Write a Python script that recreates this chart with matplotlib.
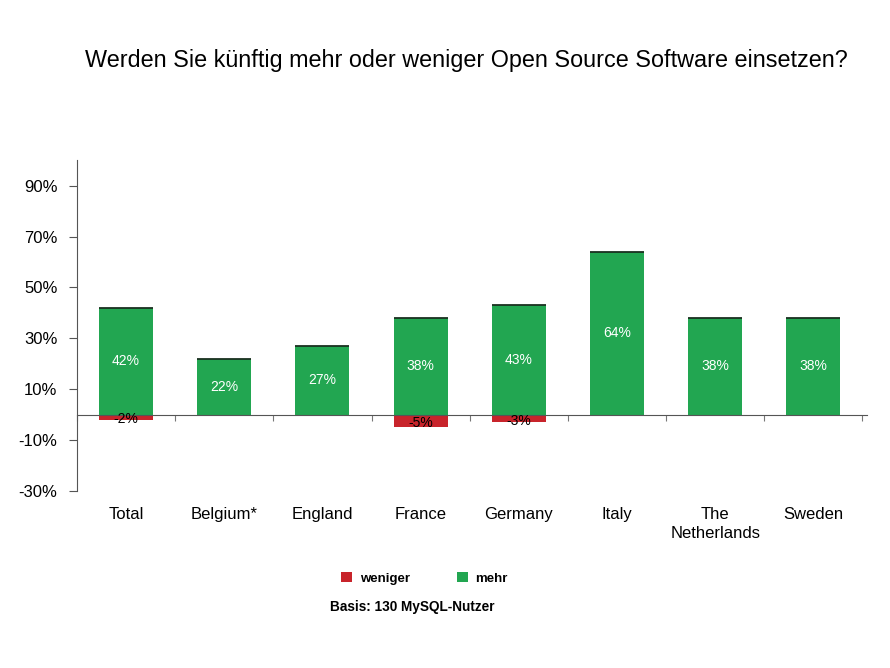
import numpy as np
import matplotlib.pyplot as plt
from matplotlib.patches import Patch

plt.rcParams['font.family'] = ['Liberation Sans', 'DejaVu Sans']

# Data
categories = ["Total", "Belgium*", "England", "France", "Germany", "Italy",
              "The\nNetherlands", "Sweden"]
weniger = [-2, 0, 0, -5, -3, 0, 0, 0]
mehr = [42, 22, 27, 38, 43, 64, 38, 38]
yticks = [-30, -10, 10, 30, 50, 70, 90]

green = "#22a651"
red = "#c8242b"

fig = plt.figure(figsize=(8.9, 6.68), dpi=100)
ax = fig.add_axes([0.0865, 0.265, 0.888, 0.495])

x = np.arange(len(categories)) + 0.5
w = 0.55

ax.bar(x, mehr, width=w, color=green, edgecolor="none", zorder=2)
ax.hlines(mehr, x - w / 2, x + w / 2, color="#1a3020", lw=1.3, zorder=3)
ax.bar(x, weniger, width=w, color=red, edgecolor="none", zorder=2)

# value labels
for xi, v in zip(x, mehr):
    ax.text(xi, v / 2, f"{v}%", ha="center", va="center", color="white",
            fontsize=10, zorder=4)
for xi, v in zip(x, weniger):
    if v != 0:
        ax.text(xi, v / 2 - 0.8, f"{v}%", ha="center", va="center", color="black",
                fontsize=10, zorder=4)

ax.set_xlim(0, len(categories) + 0.05)
ax.set_ylim(-30, 100)
ax.set_yticks(yticks)
ax.set_yticklabels([f"{t}%" for t in yticks], fontsize=12)

ax.spines["top"].set_visible(False)
ax.spines["right"].set_visible(False)
ax.spines["bottom"].set_position(("data", 0))
ax.spines["bottom"].set_color("#555555")
ax.spines["left"].set_color("#555555")
ax.tick_params(axis="y", length=6, color="#555555", pad=8)

# category boundary ticks on the zero line
ax.set_xticks(np.arange(len(categories) + 1))
ax.set_xticklabels([])
ax.tick_params(axis="x", length=4, direction="out", color="#777777")

# category labels below the plot
for xi, c in zip(x, categories):
    ax.text(xi, -36.3, c, ha="center", va="top", fontsize=12, linespacing=1.3,
            clip_on=False)

fig.text(0.524, 0.909, "Werden Sie künftig mehr oder weniger Open Source Software einsetzen?",
         ha="center", va="center", fontsize=16.8)

handles = [Patch(facecolor=red, edgecolor="none"), Patch(facecolor=green, edgecolor="none")]
fig.legend(handles, ["weniger", "mehr"], loc="center left", bbox_to_anchor=(0.37, 0.134),
           ncol=2, frameon=False, handlelength=0.8, handleheight=0.8, columnspacing=3.6,
           handletextpad=0.6, prop={"size": 9.5, "weight": "bold"})
fig.text(0.371, 0.092, "Basis: 130 MySQL-Nutzer", fontsize=9.8, fontweight="bold",
         ha="left", va="center")

fig.savefig("out.png", dpi=100)
